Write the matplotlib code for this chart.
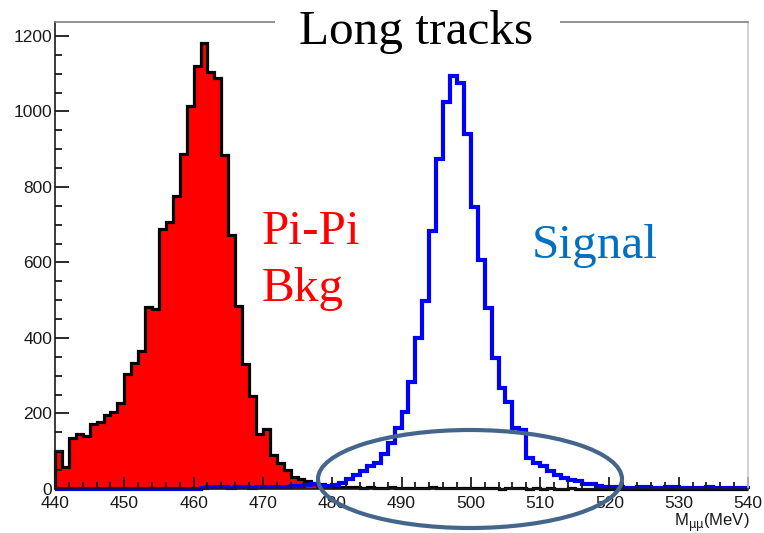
import numpy as np
import matplotlib.pyplot as plt
import matplotlib.transforms as mtransforms
from matplotlib.patches import Ellipse, Rectangle
from matplotlib.ticker import MultipleLocator

# histogram binning (1 MeV bins from 440 to 540)
x_lo, x_hi, bin_w = 440, 540, 1

# Pi-Pi background counts per bin
bkg = [101, 59, 134, 147, 140, 171, 178, 196, 205, 227,
       304, 335, 366, 481, 478, 688, 708, 777, 887, 1015,
       1121, 1181, 1104, 1088, 885, 673, 486, 330, 247, 147,
       158, 90, 68, 50, 33, 26, 22, 17, 12, 8,
       6, 5, 4, 5, 3, 4, 3, 2, 4, 3,
       3, 2, 3, 2, 4, 2, 3, 2, 2, 3,
       2, 2, 3, 2, 1, 2, 3, 2, 1, 2,
       1, 2, 1, 1, 2, 1, 1, 1, 0, 1,
       0, 0, 1, 0, 0, 0, 0, 0, 0, 0,
       0, 0, 0, 0, 0, 0, 0, 0, 0, 0]

# signal counts per bin
sig = [0, 0, 1, 0, 0, 1, 0, 0, 1, 0,
       0, 1, 0, 0, 1, 0, 1, 0, 1, 1,
       1, 2, 4, 5, 4, 3, 5, 4, 3, 5,
       4, 5, 6, 5, 8, 9, 10, 12, 9, 8,
       11, 17, 26, 37, 49, 62, 68, 94, 121, 161,
       205, 284, 399, 499, 684, 874, 1026, 1095, 1076, 940,
       748, 607, 479, 348, 267, 231, 161, 156, 82, 70,
       60, 48, 36, 30, 24, 22, 14, 12, 7, 6,
       5, 4, 3, 3, 4, 5, 3, 3, 5, 4,
       3, 3, 2, 3, 4, 3, 2, 2, 3, 2]

edges = np.arange(x_lo, x_hi + bin_w, bin_w)

W, H = 764, 533
fig = plt.figure(figsize=(W / 100, H / 100), dpi=100)
ax = fig.add_axes([55 / W, 44 / H, (748 - 55) / W, (511 - 44) / H])

ax.stairs(bkg, edges, fill=True, color='#ff0000', lw=0)
ax.stairs(bkg, edges, color='black', lw=2.3, clip_on=False)
ax.stairs(sig, edges, color='#0000ff', lw=3, clip_on=False)

ax.set_xlim(x_lo, x_hi)
ax.set_ylim(0, 1237)

ax.xaxis.set_major_locator(MultipleLocator(10))
ax.xaxis.set_minor_locator(MultipleLocator(2))
ax.yaxis.set_major_locator(MultipleLocator(200))
ax.yaxis.set_minor_locator(MultipleLocator(50))
ax.tick_params(which='both', direction='in', width=1.3, color='#1a1a1a',
               labelsize=12.5, labelcolor='#1a1a1a')
ax.tick_params(axis='y', which='major', length=10, pad=2)
ax.tick_params(axis='y', which='minor', length=5)
ax.tick_params(axis='x', which='major', length=9, pad=5)
ax.tick_params(axis='x', which='minor', length=5)
for lab in ax.get_xticklabels() + ax.get_yticklabels():
    lab.set_fontfamily('Liberation Sans')

# ROOT puts the "0" a little above the axis
zero_lab = ax.yaxis.get_major_ticks()[0].label1
zero_lab.set_transform(zero_lab.get_transform() +
                       mtransforms.ScaledTranslation(0, 5 / 100, fig.dpi_scale_trans))

ax.spines['left'].set_color('#1a1a1a')
ax.spines['bottom'].set_color('#1a1a1a')
ax.spines['top'].set_color('#808080')
ax.spines['right'].set_color('#c8c8c8')
for s in ax.spines.values():
    s.set_linewidth(1.2)

# axis title, ROOT style at the right end
fig.text(750 / W, 1 - 526 / H, r'M$_{\mathrm{\mu\mu}}$(MeV)', ha='right', va='baseline',
         fontsize=12, color='#1a1a1a', family='Liberation Sans')

# title box hides the top frame
fig.patches.append(Rectangle((275 / W, 1 - 30 / H), 285 / W, 30 / H,
                             transform=fig.transFigure, facecolor='white',
                             edgecolor='none', zorder=2))
fig.text(416 / W, 1 - 44 / H, 'Long tracks', ha='center', va='baseline',
         fontsize=35.5, family='Liberation Serif', color='black', zorder=3)

fig.text(262 / W, 1 - 244 / H, 'Pi-Pi', ha='left', va='baseline',
         fontsize=35.5, family='Liberation Serif', color='#ff0000')
fig.text(262 / W, 1 - 301 / H, 'Bkg', ha='left', va='baseline',
         fontsize=35.5, family='Liberation Serif', color='#ff0000')
fig.text(532 / W, 1 - 258 / H, 'Signal', ha='left', va='baseline',
         fontsize=35.5, family='Liberation Serif', color='#0070c0')

# highlight ellipse around the tails
fig.patches.append(Ellipse((470 / W, 1 - 479 / H), 304 / W, 98 / H,
                           transform=fig.transFigure, fill=False,
                           edgecolor='#44668c', lw=3, zorder=4))

fig.savefig('out.png', dpi=100)
